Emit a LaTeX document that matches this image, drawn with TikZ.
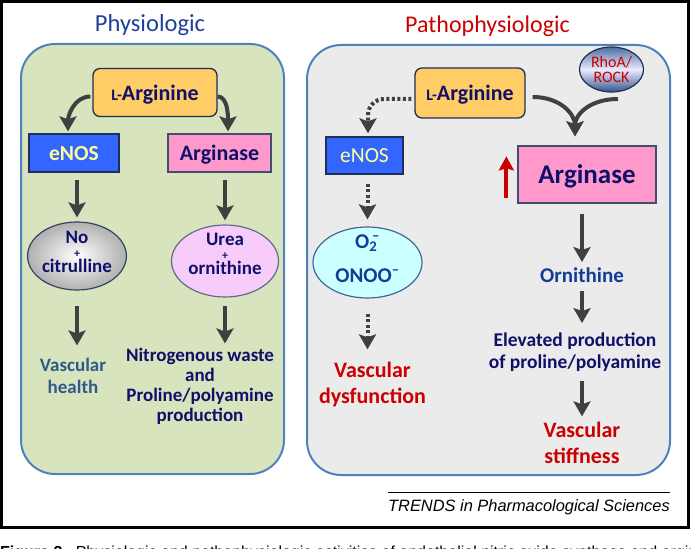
\documentclass[tikz,border=0pt]{standalone}
\usepackage{fontspec}
\setmainfont{Carlito}
\newfontfamily\arialfont{Liberation Sans}
\usetikzlibrary{arrows.meta,shapes.geometric,calc}
\definecolor{navy}{HTML}{10106A}
\definecolor{tblue}{HTML}{1F3F9F}
\definecolor{tred}{HTML}{CC0000}
\definecolor{steel}{HTML}{2E5A8C}
\definecolor{obl}{HTML}{143C96}
\definecolor{greenfill}{HTML}{D7E4BD}
\definecolor{grayfill}{HTML}{EBEBEB}
\definecolor{panelborder}{HTML}{4F81BD}
\definecolor{largfill}{HTML}{FFCC66}
\definecolor{boxborder}{HTML}{1F2F55}
\definecolor{enosfill}{HTML}{3366FF}
\definecolor{enostext}{HTML}{FFFF99}
\definecolor{argfill}{HTML}{FF99CC}
\definecolor{pinkell}{HTML}{F7CCFA}
\definecolor{cyanell}{HTML}{CCFFFF}
\definecolor{arrgray}{HTML}{404040}
\definecolor{rhotop}{HTML}{4F6F9F}
\definecolor{rhobot}{HTML}{34548A}
\tikzset{
  panel/.style={draw=panelborder, line width=2pt, rounded corners=34pt, inner sep=0pt},
  largbox/.style={draw=boxborder, line width=1.3pt, fill=largfill, rounded corners=7pt,
    inner sep=0pt, text=navy, text depth=0pt, font=\bfseries\fontsize{22}{24}\selectfont},
  enosbox/.style={draw=boxborder, line width=1.3pt, fill=enosfill, inner sep=0pt,
    text=enostext, text depth=0pt},
  argbox/.style={draw=boxborder!85, line width=1.3pt, fill=argfill, inner sep=0pt,
    text=navy, text depth=0pt},
  ell/.style={ellipse, draw=boxborder!90, line width=1.2pt, inner sep=0pt, align=center},
  lbl/.style={align=center, inner sep=0pt, anchor=base},
  arr/.style={draw=arrgray, line width=4pt, -{Stealth[width=17pt,length=15pt,inset=3pt]}},
  dotarr/.style={arr, dash pattern=on 3pt off 2.5pt},
  redarr/.style={draw=tred, line width=4pt, -{Stealth[width=15pt,length=14pt,inset=2pt]}},
}
\begin{document}
\begin{tikzpicture}[x=1pt,y=-1pt]
\useasboundingbox (0,0) rectangle (692,548);
\fill[white] (0,0) rectangle (692,548);
\draw[line width=3pt] (1.5,1.5) rectangle (688.5,527);

% panels
\node[panel, fill=greenfill, minimum width=263pt, minimum height=430pt] (lp) at (152.5,259) {};
\node[panel, fill=grayfill, minimum width=363pt, minimum height=430pt] (rp) at (488.5,260) {};

% titles
\node[anchor=base, inner sep=0pt, font=\fontsize{24.5}{28}\selectfont, text=tblue] (t1) at (150,32) {Physiologic};
\node[anchor=base, inner sep=0pt, font=\fontsize{24}{28}\selectfont, text=tred] (t2) at (487.5,33) {Pathophysiologic};

% ---------- left panel ----------
\node[largbox, minimum width=124pt, minimum height=48pt] (larg1) at (155,92.5)
  {{\fontsize{16}{16}\selectfont L-}Arginine};
\node[enosbox, minimum width=90pt, minimum height=38pt, font=\bfseries\fontsize{21.5}{24}\selectfont] (enos1) at (74,153) {eNOS};
\node[argbox, minimum width=103pt, minimum height=38pt, font=\bfseries\fontsize{22}{24}\selectfont] (arg1) at (219.5,153) {Arginase};

\node[ell, inner color=white, outer color=gray!62, minimum width=97pt, minimum height=68pt,
  text=navy, text height=38pt, text depth=6pt, font=\bfseries\fontsize{19}{14.5}\selectfont] (ell1) at (77,256)
  {No\\{\fontsize{12}{12}\selectfont +}\\citrulline};
\node[ell, fill=pinkell, draw=boxborder!70, minimum width=107pt, minimum height=72pt,
  text=navy, text height=38pt, text depth=12pt, font=\bfseries\fontsize{19}{14.5}\selectfont] (ell2) at (225,261)
  {Urea\\{\fontsize{12}{12}\selectfont +}\\ornithine};

\node[lbl, text=steel, font=\bfseries\fontsize{19}{22}\selectfont] (vh) at (73,393) {Vascular\\health};
\node[lbl, text=navy, font=\bfseries\fontsize{19}{20}\selectfont] (nw) at (200,421)
  {Nitrogenous waste\\and\\Proline/polyamine\\production};

\draw[arr] ($(larg1.west)+(-2,4)$) .. controls +(-16,0) and +(0,-16) .. ($(enos1.north)+(-6,-2)$);
\draw[arr] ($(larg1.east)+(0,4)$) .. controls +(10,0) and +(0,-16) .. ($(arg1.north)+(8.5,-2)$);
\draw[arr] ($(enos1.south -| ell1.north)+(0,7)$) -- ($(ell1.north)+(0,-4)$);
\draw[arr] ($(arg1.south -| ell2.north)+(0,7)$) -- ($(ell2.north)+(0,-4)$);
\draw[arr] ($(ell1.south)+(0,15)$) -- ($(vh.north -| ell1.south)+(0,-12)$);
\draw[arr] ($(ell2.south)+(0,8)$) -- ($(nw.north -| ell2.south)+(0,-4)$);

% ---------- right panel ----------
\node[largbox, minimum width=110pt, minimum height=50pt] (larg2) at (470,93)
  {{\fontsize{16}{16}\selectfont L-}Arginine};
\node[ell, top color=rhotop, bottom color=rhobot, middle color=white!92!blue, draw=boxborder,
  minimum width=64pt, minimum height=45pt, text=tred, text height=28pt, text depth=1.6pt,
  font=\fontsize{16}{15.5}\selectfont] (rhoa) at (611.5,69.5) {RhoA/\\ROCK};
\node[enosbox, minimum width=77pt, minimum height=37pt, font=\fontsize{21.5}{24}\selectfont] (enos2) at (364.5,155.5) {eNOS};
\node[argbox, minimum width=138pt, minimum height=57pt, font=\bfseries\fontsize{27}{30}\selectfont] (arg2) at (587,174.5) {Arginase};

\node[ell, fill=cyanell, draw=panelborder!80!black, minimum width=109pt, minimum height=71pt,
  text=obl, text height=44pt, text depth=5pt, font=\bfseries\fontsize{21}{34}\selectfont] (ell3) at (367.5,262.5)
  {O\textsubscript{2}\kern-0.25em\textsuperscript{–}\\ONOO\textsuperscript{–}};

\node[lbl, text=tred, font=\bfseries\fontsize{22}{26}\selectfont] (vd) at (372.5,403) {Vascular\\dysfunction};
\node[lbl, text=obl, font=\bfseries\fontsize{21}{24}\selectfont] (orn) at (582,282) {Ornithine};
\node[lbl, text=navy, font=\bfseries\fontsize{19.5}{22}\selectfont] (ep) at (575,368) {Elevated production\\of proline/polyamine};
\node[lbl, text=tred, font=\bfseries\fontsize{22}{26}\selectfont] (vs) at (582,463) {Vascular\\stiffness};

\coordinate (rstart) at (618,99);
\draw[dotarr, rounded corners=16pt] ($(larg2.west)+(-3,6)$) -| ($(enos2.north)+(3.5,-3)$);
\draw[arr] ($(larg2.east)+(7,4)$) .. controls +(28,0) and +(0,-22) .. ($(arg2.north)+(-12,-9)$);
\draw[arr] (rstart) .. controls +(-28,0) and +(0,-22) .. ($(arg2.north)+(-12,-9)$);
\draw[redarr] ($(arg2.south west)+(-11,-6)$) -- ($(arg2.north west)+(-11,11)$);
\draw[dotarr] ($(enos2.south -| ell3.north)+(0,9)$) -- ($(ell3.north)+(0,-7)$);
\draw[dotarr] ($(ell3.south)+(0,15)$) -- ($(vd.north -| ell3.south)+(0,-12)$);
\draw[arr] ($(arg2.south -| orn.north)+(0,10)$) -- ($(orn.north)+(0,-5)$);
\draw[arr] ($(orn.south)+(0,9)$) -- ($(ep.north -| orn.south)+(0,-9)$);
\draw[arr] ($(ep.south -| vs.north)+(0,10)$) -- ($(vs.north)+(0,-5)$);

% source line
\node[anchor=base east, inner sep=0pt, font=\arialfont\itshape\fontsize{16.4}{18}\selectfont] (trends) at (670,511)
  {TRENDS in Pharmacological Sciences};
\draw[line width=0.9pt] ($(trends.north west)+(0,-6)$) -- ($(trends.north east)+(0,-6)$);

% caption (cut off at the bottom edge)
\node[anchor=base west, inner sep=0pt, font=\arialfont\fontsize{16}{18}\selectfont] (cap) at (0,557)
  {\textbf{Figure 3.}\ \ Physiologic and pathophysiologic activities of endothelial nitric oxide synthase and arginase.};
\end{tikzpicture}
\end{document}
